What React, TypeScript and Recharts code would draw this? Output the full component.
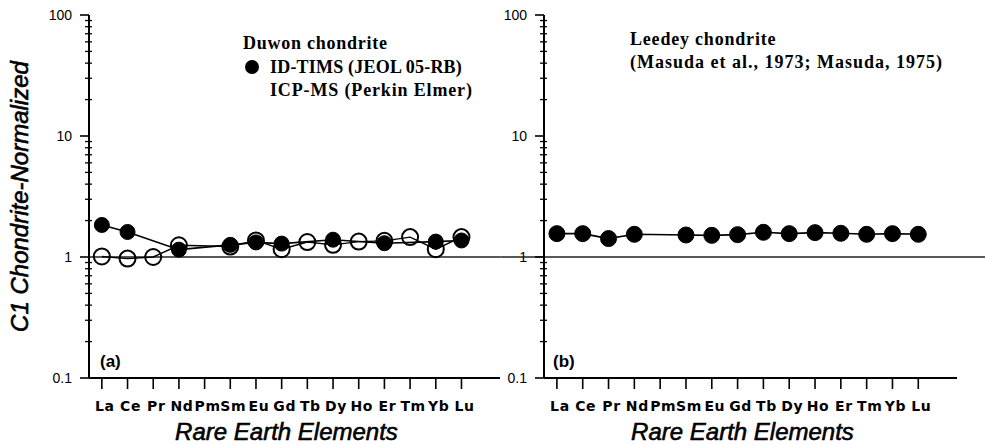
import React from 'react';
import { ComposedChart, Line, XAxis, YAxis, ReferenceLine, Customized } from 'recharts';

const elements = ['La', 'Ce', 'Pr', 'Nd', 'Pm', 'Sm', 'Eu', 'Gd', 'Tb', 'Dy', 'Ho', 'Er', 'Tm', 'Yb', 'Lu'];
const duwonIdTims: (number | null)[] = [1.84, 1.61, null, 1.15, null, 1.26, 1.32, 1.29, null, 1.39, null, 1.3, null, 1.34, 1.37];
const duwonIcpMs: (number | null)[] = [1.01, 0.97, 1.0, 1.25, null, 1.22, 1.37, 1.16, 1.33, 1.26, 1.34, 1.36, 1.46, 1.16, 1.46];
const leedey: (number | null)[] = [1.56, 1.56, 1.42, 1.54, null, 1.52, 1.51, 1.53, 1.6, 1.56, 1.59, 1.57, 1.54, 1.56, 1.54];

const majorTicks = [0.1, 1, 10, 100];
const yTicks = [
  0.1, 0.2, 0.3, 0.4, 0.5, 0.6, 0.7, 0.8, 0.9,
  1, 2, 3, 4, 5, 6, 7, 8, 9,
  10, 20, 30, 40, 50, 60, 70, 80, 90, 100,
];
const xTicks = elements.map((_, i) => i + 1);

const leftData = elements.map((el, i) => ({ idx: i + 1, el, tims: duwonIdTims[i], icp: duwonIcpMs[i] }));
const rightData = elements.map((el, i) => ({ idx: i + 1, el, leedey: leedey[i] }));

const SANS = "'Liberation Sans', Arial, Helvetica, sans-serif";
const WIDE = "'DejaVu Sans', 'Liberation Sans', Arial, sans-serif";
const SERIF = "'Liberation Serif', 'Times New Roman', Times, serif";

const isMajor = (v: number) => majorTicks.some((m) => Math.abs(m - v) < 1e-9);

function YTick(props: any) {
  const { x, y, payload } = props;
  const v = payload.value;
  const major = isMajor(v);
  return (
    <g>
      {major ? (
        <line x1={x - 9} x2={x} y1={y} y2={y} stroke="#000" strokeWidth={1.6} />
      ) : (
        <line x1={x - 4} x2={x + 3} y1={y} y2={y} stroke="#000" strokeWidth={1.3} />
      )}
      {major && (
        <text x={x - 17} y={y} dy={5} textAnchor="end" fontSize={14} fontFamily={SANS} fill="#000">
          {String(v)}
        </text>
      )}
    </g>
  );
}

function XTick(props: any) {
  const { x, y, payload } = props;
  const label = elements[payload.value - 1] ?? '';
  return (
    <g>
      <line x1={x} x2={x} y1={y + 1} y2={y + 11} stroke="#000" strokeWidth={1.6} />
      <text
        x={x + 3}
        y={y + 33}
        textAnchor="middle"
        fontSize={14}
        fontWeight="bold"
        fontFamily={WIDE}
        letterSpacing={0.6}
        fill="#000"
      >
        {label}
      </text>
    </g>
  );
}

function FilledDot(r: number) {
  return (props: any) => {
    const { cx, cy, value } = props;
    if (value == null || cx == null || cy == null) return <g />;
    return <circle cx={cx} cy={cy} r={r} fill="#000" stroke="#000" strokeWidth={1} />;
  };
}

function OpenDot(props: any) {
  const { cx, cy, value } = props;
  if (value == null || cx == null || cy == null) return <g />;
  return <circle cx={cx} cy={cy} r={8} fill="none" stroke="#000" strokeWidth={2} />;
}

function YTitle(props: any) {
  const vb = props.viewBox || {};
  const cx = (vb.x ?? 0) + 19;
  const cy = (vb.y ?? 0) + (vb.height ?? 0) / 2;
  return (
    <text
      x={cx}
      y={cy}
      transform={`rotate(-90, ${cx}, ${cy})`}
      textAnchor="middle"
      dominantBaseline="central"
      fontSize={24}
      fontStyle="italic"
      fontFamily={SANS}
      fill="#000"
      stroke="#000"
      strokeWidth={0.6}
    >
      C1 Chondrite-Normalized
    </text>
  );
}

function XTitle(props: any) {
  const vb = props.viewBox || {};
  const cx = (vb.x ?? 0) + (vb.width ?? 0) / 2 - 8;
  return (
    <text
      x={cx}
      y={440}
      textAnchor="middle"
      fontSize={24}
      fontStyle="italic"
      fontFamily={SANS}
      fill="#000"
      stroke="#000"
      strokeWidth={0.6}
    >
      Rare Earth Elements
    </text>
  );
}

function LeftAnnotations() {
  return (
    <g fontFamily={SERIF} fontWeight="bold" fill="#000">
      <text x={243} y={49} fontSize={18} letterSpacing={0.75}>Duwon chondrite</text>
      <circle cx={252} cy={67} r={7} fill="#000" />
      <text x={270} y={73} fontSize={18} letterSpacing={0.2}>ID-TIMS (JEOL 05-RB)</text>
      <text x={270} y={96} fontSize={18} letterSpacing={0.85}>ICP-MS (Perkin Elmer)</text>
      <text x={100} y={367} fontSize={17} fontFamily={SANS}>(a)</text>
    </g>
  );
}

function RightAnnotations() {
  return (
    <g fontFamily={SERIF} fontWeight="bold" fill="#000">
      <text x={630 - 460} y={45} fontSize={18} letterSpacing={0.8}>Leedey chondrite</text>
      <text x={630 - 460} y={68} fontSize={18} letterSpacing={1}>(Masuda et al., 1973; Masuda, 1975)</text>
      <text x={553 - 460} y={367} fontSize={17} fontFamily={SANS}>(b)</text>
    </g>
  );
}

const axisLine = { stroke: '#000', strokeWidth: 2 };

export default function App() {
  return (
    <div style={{ position: 'absolute', left: 0, top: 0, width: 985, height: 445, background: '#fff' }}>
      <div style={{ position: 'absolute', left: 0, top: 0 }}>
        <ComposedChart width={500} height={445} data={leftData} margin={{ top: 15, right: 0, bottom: 0, left: 0 }}>
          <XAxis
            dataKey="idx"
            type="number"
            domain={[0.5, 16.5]}
            ticks={xTicks}
            interval={0}
            height={67}
            tickSize={0}
            tickMargin={0}
            tickLine={false}
            axisLine={axisLine}
            tick={<XTick />}
            label={<XTitle />}
            allowDataOverflow
          />
          <YAxis
            type="number"
            scale="log"
            domain={[0.1, 100]}
            ticks={yTicks}
            interval={0}
            width={89}
            tickSize={0}
            tickMargin={0}
            tickLine={false}
            axisLine={axisLine}
            tick={<YTick />}
            label={<YTitle />}
            allowDataOverflow
          />
          <ReferenceLine
            segment={[{ x: 0.5, y: 1 }, { x: 16.5, y: 1 }]}
            stroke="#222"
            strokeWidth={1.5}
            ifOverflow="visible"
          />
          <Line
            dataKey="tims"
            stroke="#000"
            strokeWidth={1.6}
            connectNulls
            dot={FilledDot(7.5)}
            activeDot={false}
            isAnimationActive={false}
          />
          <Line
            dataKey="icp"
            stroke="#000"
            strokeWidth={1.4}
            connectNulls
            dot={OpenDot}
            activeDot={false}
            isAnimationActive={false}
          />
          <Customized component={LeftAnnotations} />
        </ComposedChart>
      </div>
      <div style={{ position: 'absolute', left: 460, top: 0 }}>
        <ComposedChart width={525} height={445} data={rightData} margin={{ top: 15, right: 28, bottom: 0, left: 0 }}>
          <XAxis
            dataKey="idx"
            type="number"
            domain={[0.5, 16.5]}
            ticks={xTicks}
            interval={0}
            height={67}
            tickSize={0}
            tickMargin={0}
            tickLine={false}
            axisLine={axisLine}
            tick={<XTick />}
            label={<XTitle />}
            allowDataOverflow
          />
          <YAxis
            type="number"
            scale="log"
            domain={[0.1, 100]}
            ticks={yTicks}
            interval={0}
            width={84}
            tickSize={0}
            tickMargin={0}
            tickLine={false}
            axisLine={axisLine}
            tick={<YTick />}
            allowDataOverflow
          />
          <ReferenceLine
            segment={[{ x: -1.2, y: 1 }, { x: 17.6, y: 1 }]}
            stroke="#222"
            strokeWidth={1.5}
            ifOverflow="visible"
          />
          <Line
            dataKey="leedey"
            stroke="#000"
            strokeWidth={1.6}
            connectNulls
            dot={FilledDot(8)}
            activeDot={false}
            isAnimationActive={false}
          />
          <Customized component={RightAnnotations} />
        </ComposedChart>
      </div>
    </div>
  );
}
